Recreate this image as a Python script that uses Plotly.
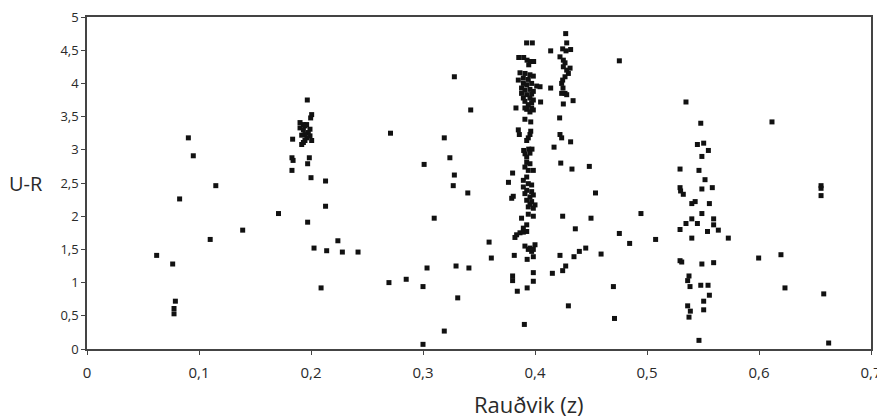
import plotly.graph_objects as go

# Redshift (z) values
z = [
    0.0905, 0.0949, 0.115, 0.0827, 0.171, 0.139, 0.110, 0.0622, 0.0765, 0.0789, 0.0777, 0.0777,
    0.1967, 0.2006, 0.1997, 0.1902, 0.1932, 0.1961, 0.1902, 0.1946, 0.1991, 0.1932, 0.1976,
    0.1946, 0.1991, 0.1917, 0.1961, 0.1932, 0.1917, 0.1946, 0.2006,
    0.1836, 0.183, 0.184, 0.183, 0.1985, 0.197, 0.2, 0.213, 0.213, 0.197, 0.2027, 0.214,
    0.224, 0.209, 0.228, 0.242,
    0.271, 0.2696, 0.285, 0.300, 0.300, 0.301, 0.3036, 0.310, 0.319, 0.319, 0.324, 0.328,
    0.328, 0.327, 0.3295, 0.331, 0.340, 0.341, 0.3426, 0.359, 0.361,
    0.3925, 0.3976, 0.3855, 0.3899, 0.3929, 0.3958, 0.3988, 0.3944,
    0.3866, 0.3911, 0.3955, 0.3985, 0.3896, 0.394, 0.3851,
    0.3896, 0.3926, 0.397, 0.4015, 0.4045, 0.388, 0.391, 0.3955, 0.3985, 0.388, 0.3926, 0.397,
    0.3896, 0.3955, 0.3985, 0.391, 0.397, 0.394, 0.397, 0.3926, 0.3985, 0.3955, 0.391,
    0.383, 0.391, 0.3962, 0.3851, 0.3962,
    0.386, 0.3955, 0.394, 0.3926,
    0.3899, 0.3944, 0.3973, 0.3911, 0.3955, 0.3926,
    0.3926, 0.3955, 0.391, 0.3985, 0.394,
    0.380, 0.3763,
    0.3896, 0.3926, 0.394, 0.3896, 0.397, 0.3926, 0.397, 0.391, 0.3955, 0.3985, 0.3926, 0.397,
    0.400, 0.394, 0.3985, 0.3955,
    0.3806, 0.3792,
    0.388, 0.394, 0.3985, 0.3926, 0.3896, 0.3866, 0.3836,
    0.3896, 0.3926, 0.3821,
    0.391, 0.3955, 0.400, 0.3985, 0.394, 0.397,
    0.3815, 0.393, 0.3985,
    0.3985, 0.3985, 0.380, 0.380, 0.3842, 0.393, 0.3905,
    0.4274, 0.4283, 0.414, 0.4247, 0.4277, 0.4318,
    0.4223, 0.4253, 0.4268, 0.4253,
    0.4283, 0.4313, 0.4298, 0.4268, 0.4247, 0.4238,
    0.414, 0.4250, 0.4268, 0.4238, 0.4283,
    0.405, 0.434, 0.4253, 0.422,
    0.4223, 0.4238, 0.4318, 0.417, 0.423, 0.433, 0.4485,
    0.4247, 0.436, 0.4223, 0.4348, 0.4396, 0.4453, 0.4274, 0.4247, 0.4155, 0.4298,
    0.454, 0.450, 0.459, 0.4753, 0.4753, 0.4845, 0.4946, 0.5077, 0.470, 0.471,
    0.5348, 0.548, 0.545, 0.5506, 0.5548, 0.549, 0.5295, 0.5464, 0.5518,
    0.5295, 0.530, 0.5324, 0.549, 0.5583, 0.540, 0.543, 0.5557, 0.549, 0.540, 0.5348,
    0.545, 0.5595, 0.5595, 0.5295, 0.554, 0.5637, 0.540, 0.5726,
    0.5295, 0.531, 0.549, 0.5595, 0.5997, 0.6196,
    0.5375, 0.5363, 0.5384, 0.548, 0.5545, 0.5557, 0.5506, 0.5363, 0.5387, 0.5375, 0.5506,
    0.5464, 0.6116, 0.6554, 0.6554, 0.6554, 0.6232, 0.6578, 0.6622,
]

# U-R colour values
ur = [
    3.18, 2.91, 2.46, 2.26, 2.04, 1.79, 1.65, 1.41, 1.28, 0.72, 0.61, 0.53,
    3.75, 3.53, 3.48, 3.41, 3.38, 3.38, 3.33, 3.36, 3.31, 3.30, 3.26,
    3.23, 3.21, 3.22, 3.18, 3.11, 3.08, 3.14, 3.14,
    3.16, 2.88, 2.84, 2.69, 2.88, 2.79, 2.58, 2.53, 2.15, 1.91, 1.52, 1.48,
    1.63, 0.92, 1.46, 1.46,
    3.25, 1.00, 1.05, 0.94, 0.07, 2.78, 1.22, 1.97, 3.18, 0.27, 2.88, 4.10,
    2.62, 2.46, 1.25, 0.77, 2.35, 1.22, 3.60, 1.61, 1.37,
    4.61, 4.61, 4.39, 4.39, 4.35, 4.33, 4.33, 4.28,
    4.16, 4.15, 4.13, 4.11, 4.08, 4.06, 4.05,
    4.00, 3.98, 4.00, 3.96, 3.95, 3.93, 3.90, 3.91, 3.88, 3.85, 3.83, 3.84,
    3.78, 3.78, 3.75, 3.73, 3.71, 3.68, 3.63, 3.61, 3.60, 3.57, 3.63,
    3.63, 3.46, 3.42, 3.30, 3.28,
    3.23, 3.23, 3.18, 3.14,
    2.99, 3.01, 3.01, 2.94, 2.95, 2.89,
    2.81, 2.79, 2.74, 2.69, 2.69,
    2.65, 2.51,
    2.54, 2.59, 2.49, 2.44, 2.47, 2.39, 2.37, 2.34, 2.29, 2.32, 2.24, 2.22,
    2.17, 2.14, 2.12, 2.18,
    2.30, 2.27,
    1.97, 2.03, 2.00, 1.87, 1.82, 1.75, 1.72,
    1.76, 1.77, 1.68,
    1.55, 1.52, 1.57, 1.50, 1.50, 1.47,
    1.41, 1.35, 1.39,
    1.15, 1.02, 1.10, 1.03, 0.87, 0.92, 0.37,
    4.75, 4.61, 4.49, 4.52, 4.49, 4.51,
    4.40, 4.35, 4.31, 4.25,
    4.20, 4.23, 4.15, 4.10, 4.05, 4.00,
    3.93, 3.93, 3.85, 3.85, 3.83,
    3.72, 3.74, 3.69, 3.48,
    3.23, 3.18, 3.12, 3.04, 2.80, 2.71, 2.75,
    2.00, 1.81, 1.41, 1.39, 1.47, 1.52, 1.25, 1.18, 1.14, 0.65,
    2.35, 1.97, 1.43, 4.34, 1.74, 1.59, 2.04, 1.65, 0.94, 0.46,
    3.72, 3.40, 3.08, 3.10, 2.99, 2.90, 2.71, 2.69, 2.55,
    2.43, 2.38, 2.33, 2.41, 2.43, 2.19, 2.22, 2.19, 2.04, 1.96, 1.89,
    1.89, 1.96, 1.87, 1.80, 1.77, 1.79, 1.67, 1.67,
    1.33, 1.31, 1.28, 1.30, 1.37, 1.42,
    1.10, 1.03, 0.94, 0.96, 0.96, 0.81, 0.72, 0.65, 0.57, 0.48, 0.59,
    0.13, 3.42, 2.46, 2.42, 2.31, 0.92, 0.83, 0.09,
]

x_ticks = [0, 0.1, 0.2, 0.3, 0.4, 0.5, 0.6, 0.7]
y_ticks = [0, 0.5, 1, 1.5, 2, 2.5, 3, 3.5, 4, 4.5, 5]

FONT = "Open Sans"
LINE = "#444444"
TXT = "#2a2a2a"

fig = go.Figure(
    go.Scatter(
        x=z, y=ur, mode="markers",
        marker=dict(symbol="square", size=5, color="#111111", line=dict(width=0)),
        hoverinfo="x+y",
    )
)

# page body adds ~8px offset; margins compensate so the plot area lands where the reference has it
fig.update_layout(
    template="none",
    width=885, height=419,
    autosize=False,
    margin=dict(l=79, r=22, t=9, b=78, pad=0),
    paper_bgcolor="white", plot_bgcolor="white",
    separators=", ",
    showlegend=False,
    font=dict(family=FONT, color=TXT, size=14),
    xaxis=dict(
        range=[0, 0.7], tickvals=x_ticks, showgrid=False, zeroline=False,
        automargin=False, ticklabeloverflow="allow", ticklabelstandoff=5,
        showline=True, linecolor=LINE, linewidth=1.5, mirror=True,
        ticks="outside", ticklen=4, tickcolor=LINE,
        tickfont=dict(family=FONT, size=15, color=TXT),
    ),
    yaxis=dict(
        range=[0, 5], tickvals=y_ticks, showgrid=False, zeroline=False,
        automargin=False, ticklabeloverflow="allow",
        showline=True, linecolor=LINE, linewidth=1.5, mirror=True,
        ticks="outside", ticklen=4, tickcolor=LINE,
        tickfont=dict(family=FONT, size=13, color=TXT),
    ),
    annotations=[
        dict(
            text="U-R", xref="paper", yref="y", x=0, y=2.5,
            xanchor="right", yanchor="middle", xshift=-42, showarrow=False,
            font=dict(family=FONT, size=20, color=TXT),
        ),
        dict(
            text="Rauðvik (z)", xref="x", yref="paper", x=0.395, y=0,
            xanchor="center", yanchor="middle", yshift=-55, showarrow=False,
            font=dict(family=FONT, size=22, color=TXT),
        ),
    ],
)

fig.write_html("out.html")
